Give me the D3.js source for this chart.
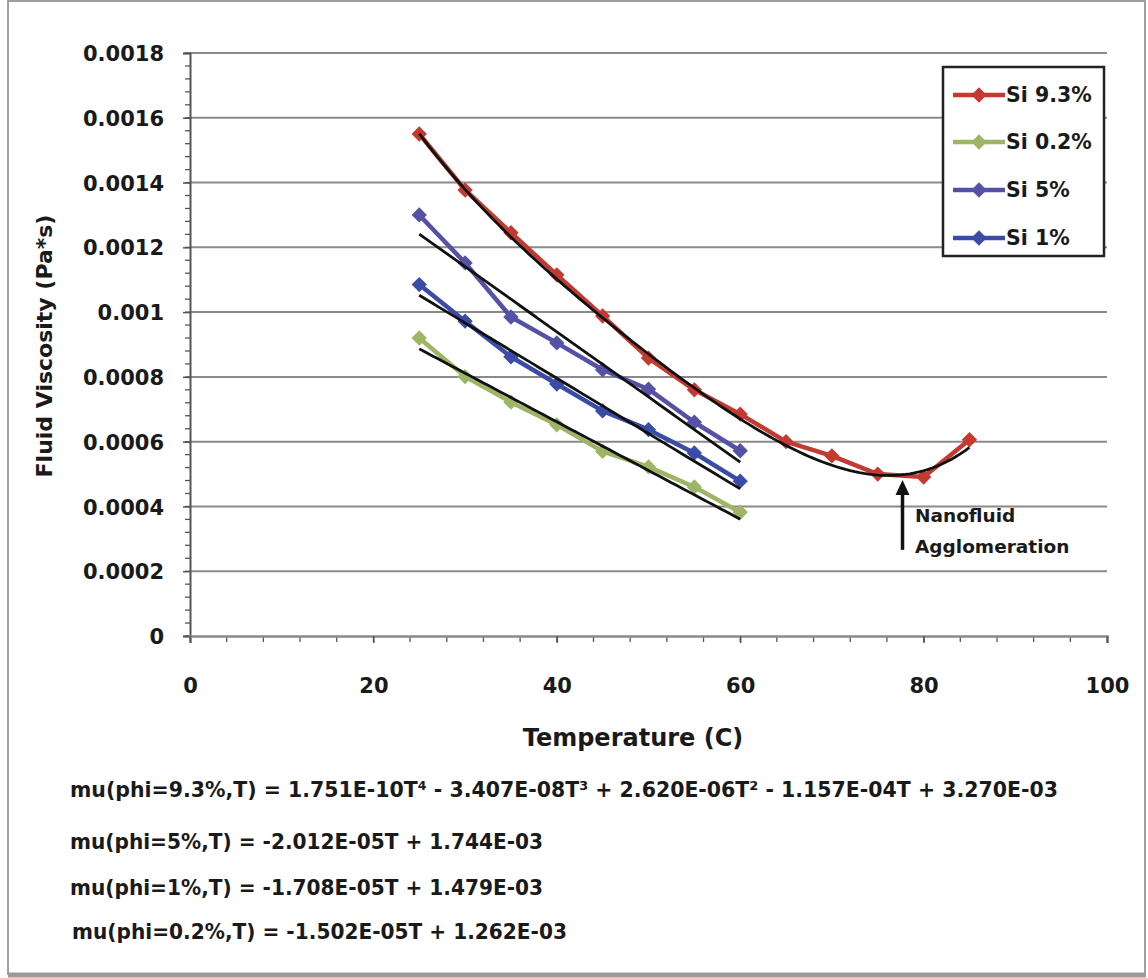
<!DOCTYPE html>
<html>
<head>
<meta charset="utf-8">
<script src="https://cdn.jsdelivr.net/npm/d3@7"></script>
<style>
  html, body { margin: 0; padding: 0; background: #fff; }
  svg { display: block; }
  text { font-family: "DejaVu Sans", "Liberation Sans", sans-serif; font-weight: bold; fill: #1a1a1a; }
</style>
</head>
<body>
<svg id="chart" width="1148" height="978"></svg>
<script>
// Measured viscosity (Pa*s) of silica nanofluids vs temperature (C)
const tempsLong = [25, 30, 35, 40, 45, 50, 55, 60, 65, 70, 75, 80, 85];
const tempsShort = [25, 30, 35, 40, 45, 50, 55, 60];
const si93 = [0.00155, 0.001377, 0.001245, 0.001115, 0.000988, 0.000858, 0.00076, 0.000685, 0.0006, 0.000556, 0.0005, 0.000491, 0.000606];
const si02 = [0.00092, 0.000801, 0.000722, 0.000652, 0.00057, 0.000522, 0.00046, 0.000382];
const si5 = [0.0013, 0.001152, 0.000985, 0.000905, 0.000822, 0.000762, 0.00066, 0.000572];
const si1 = [0.001085, 0.000972, 0.000862, 0.000778, 0.000695, 0.000637, 0.000565, 0.000478];

const seriesNames = ["Si 9.3%", "Si 0.2%", "Si 5%", "Si 1%"];
const seriesColors = ["#c43a30", "#9db565", "#5552a6", "#3b4ca6"];

// Fitted trendline coefficients, lowest order first
const fit93 = [3.270e-3, -1.157e-4, 2.620e-6, -3.407e-8, 1.751e-10];
const fit5 = [1.744e-3, -2.012e-5];
const fit1 = [1.479e-3, -1.708e-5];
const fit02 = [1.262e-3, -1.502e-5];

const xTicks = [0, 20, 40, 60, 80, 100];
const yTicks = [0, 0.0002, 0.0004, 0.0006, 0.0008, 0.001, 0.0012, 0.0014, 0.0016, 0.0018];

const equations = [
  "mu(phi=9.3%,T) = 1.751E-10T⁴ - 3.407E-08T³ + 2.620E-06T² - 1.157E-04T + 3.270E-03",
  "mu(phi=5%,T) = -2.012E-05T + 1.744E-03",
  "mu(phi=1%,T) = -1.708E-05T + 1.479E-03",
  "mu(phi=0.2%,T) = -1.502E-05T + 1.262E-03"
];

const svg = d3.select("#chart");

// outer frame
svg.append("rect").attr("x", 8).attr("y", 1).attr("width", 1137).attr("height", 973)
  .attr("fill", "none").attr("stroke", "#a0a0a0").attr("stroke-width", 2);
svg.append("line").attr("x1", 8).attr("x2", 1146).attr("y1", 975).attr("y2", 975)
  .attr("stroke", "#9a9a9a").attr("stroke-width", 5);

const x = d3.scaleLinear().domain([0, 100]).range([190, 1107]);
const y = d3.scaleLinear().domain([0, 0.0018]).range([636, 53]);

// horizontal gridlines
svg.append("g").selectAll("line").data(yTicks.slice(1)).join("line")
  .attr("x1", x(0)).attr("x2", x(100))
  .attr("y1", d => y(d)).attr("y2", d => y(d))
  .attr("stroke", "#8a8a8a").attr("stroke-width", 2);

// y axis with minor ticks
const yAxisG = svg.append("g").attr("transform", `translate(${x(0)},0)`);
yAxisG.append("g").selectAll("line").data(d3.range(0, 0.00180001, 0.00004)).join("line")
  .attr("x1", -5).attr("x2", 0).attr("y1", d => y(d)).attr("y2", d => y(d))
  .attr("stroke", "#555").attr("stroke-width", 1.3);
yAxisG.call(d3.axisLeft(y).tickValues(yTicks).tickSize(7).tickFormat(d => d === 0 ? "0" : d3.format("")(+d.toPrecision(6))));
yAxisG.select(".domain").attr("stroke", "#555").attr("stroke-width", 2);
yAxisG.selectAll(".tick line").attr("stroke", "#555").attr("stroke-width", 1.5);
yAxisG.selectAll(".tick text").attr("x", -26).attr("dy", "0.36em")
  .style("font-size", "21px").style("font-family", "DejaVu Sans").style("font-weight", "bold").attr("fill", "#1a1a1a");

// x axis with minor ticks
const xAxisG = svg.append("g").attr("transform", `translate(0,${y(0)})`);
xAxisG.append("g").selectAll("line").data(d3.range(0, 100.01, 4)).join("line")
  .attr("x1", d => x(d)).attr("x2", d => x(d)).attr("y1", 0).attr("y2", 6)
  .attr("stroke", "#555").attr("stroke-width", 1.3);
xAxisG.call(d3.axisBottom(x).tickValues(xTicks).tickSize(7).tickFormat(d3.format("d")));
xAxisG.select(".domain").attr("stroke", "#8a8a8a").attr("stroke-width", 2.5);
xAxisG.selectAll(".tick line").attr("stroke", "#555").attr("stroke-width", 1.5);
xAxisG.selectAll(".tick text").attr("y", 42)
  .style("font-size", "21px").style("font-family", "DejaVu Sans").style("font-weight", "bold").attr("fill", "#1a1a1a");

// axis titles
svg.append("text").attr("x", 633).attr("y", 746).attr("text-anchor", "middle")
  .style("font-size", "24px").text("Temperature (C)");
svg.append("text").attr("transform", "translate(52,346) rotate(-90)").attr("text-anchor", "middle")
  .style("font-size", "22px").text("Fluid Viscosity (Pa*s)");

// data series
const seriesData = [
  tempsLong.map((t, i) => [t, si93[i]]),
  tempsShort.map((t, i) => [t, si02[i]]),
  tempsShort.map((t, i) => [t, si5[i]]),
  tempsShort.map((t, i) => [t, si1[i]])
];
const line = d3.line().x(d => x(d[0])).y(d => y(d[1]));
const diamond = d3.symbol().type(d3.symbolDiamond2).size(150);

seriesData.forEach((pts, k) => {
  const g = svg.append("g");
  g.append("path").datum(pts).attr("d", line)
    .attr("fill", "none").attr("stroke", seriesColors[k]).attr("stroke-width", 4.5)
    .attr("stroke-linejoin", "round");
  g.selectAll("path.m").data(pts).join("path").attr("class", "m")
    .attr("d", diamond)
    .attr("transform", d => `translate(${x(d[0])},${y(d[1])})`)
    .attr("fill", seriesColors[k]);
});

// trendlines from the fitted equations
const poly = c => t => c.reduce((s, a, i) => s + a * Math.pow(t, i), 0);
const trends = [
  { f: poly(fit93), t0: 25, t1: 85 },
  { f: poly(fit5), t0: 25, t1: 60 },
  { f: poly(fit1), t0: 25, t1: 60 },
  { f: poly(fit02), t0: 25, t1: 60 }
];
trends.forEach(tr => {
  const pts = d3.range(tr.t0, tr.t1 + 0.001, 0.5).map(t => [t, tr.f(t)]);
  svg.append("path").datum(pts).attr("d", line)
    .attr("fill", "none").attr("stroke", "#111").attr("stroke-width", 2.8);
});

// annotation arrow
const ax = x(77.7);
svg.append("line").attr("x1", ax).attr("x2", ax).attr("y1", y(0.000266)).attr("y2", y(0.000482) + 10)
  .attr("stroke", "#111").attr("stroke-width", 3.5);
svg.append("path")
  .attr("d", `M${ax},${y(0.000482)} L${ax - 7},${y(0.000482) + 15} L${ax + 7},${y(0.000482) + 15} Z`)
  .attr("fill", "#111");
svg.append("text").attr("x", 915).attr("y", 522).style("font-size", "18.5px").text("Nanofluid");
svg.append("text").attr("x", 915).attr("y", 553).style("font-size", "18.5px").text("Agglomeration");

// legend
const lg = svg.append("g");
lg.append("rect").attr("x", 943).attr("y", 67).attr("width", 161).attr("height", 189)
  .attr("fill", "#fff").attr("stroke", "#222").attr("stroke-width", 2.5);
const legY = [95, 142, 190, 238];
seriesNames.forEach((name, k) => {
  lg.append("line").attr("x1", 953).attr("x2", 1005).attr("y1", legY[k]).attr("y2", legY[k])
    .attr("stroke", seriesColors[k]).attr("stroke-width", 4.5);
  lg.append("path").attr("d", diamond).attr("transform", `translate(979,${legY[k]})`)
    .attr("fill", seriesColors[k]);
  lg.append("text").attr("x", 1006).attr("y", legY[k]).attr("dy", "0.36em")
    .style("font-size", "20.5px").text(name);
});

// fitted equations below the chart
const eqX = [70, 70, 70, 72];
const eqY = [797, 849, 895, 939];
const eqW = [988, 473, 473, 495];
equations.forEach((eq, i) => {
  svg.append("text").attr("x", eqX[i]).attr("y", eqY[i])
    .attr("textLength", eqW[i]).attr("lengthAdjust", "spacingAndGlyphs")
    .style("font-size", "22px").text(eq);
});
</script>
</body>
</html>
